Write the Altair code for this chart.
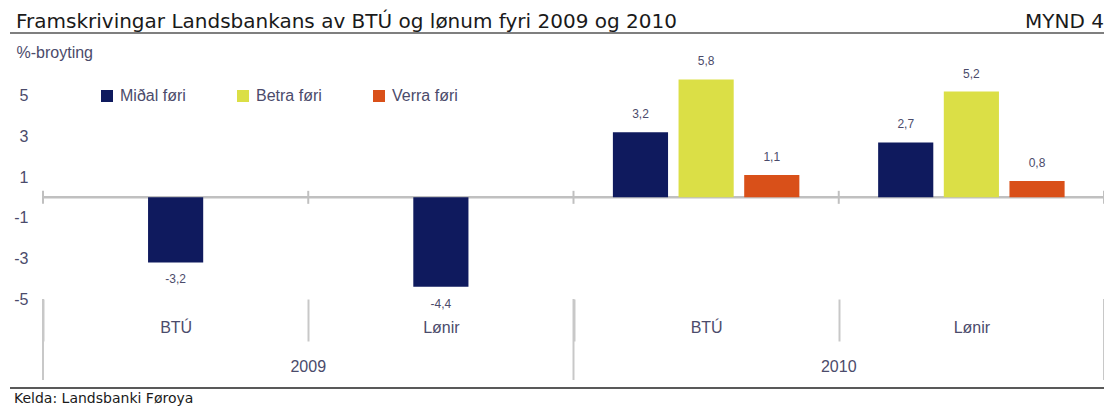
import altair as alt
import pandas as pd

# ---- data ----
years = ["2009", "2009", "2010", "2010"]
measures = ["BTÚ", "Lønir", "BTÚ", "Lønir"]
series = ["Miðal føri", "Betra føri", "Verra føri"]
midal = [-3.2, -4.4, 3.2, 2.7]
betra = [None, None, 5.8, 5.2]
verra = [None, None, 1.1, 0.8]
colors = ["#0f1a5e", "#dbdf46", "#d95019"]
y_ticks = [5, 3, 1, -1, -3, -5]
title_text = "Framskrivingar Landsbankans av BTÚ og lønum fyri 2009 og 2010"
fig_label = "MYND 4"
source_text = "Kelda: Landsbanki Føroya"
y_title = "%-broyting"

group_keys = [f"{y}|{m}" for y, m in zip(years, measures)]
rows = []
for i, g in enumerate(group_keys):
    vals = [midal[i], betra[i], verra[i]]
    present = [j for j, v in enumerate(vals) if v is not None]
    for j in present:
        slot = 1 if len(present) == 1 else j
        rows.append({"grp": g, "year": years[i], "series": series[j],
                     "value": vals[j], "slot": slot})
df = pd.DataFrame(rows)
groups_df = pd.DataFrame({"grp": group_keys, "year": years})
year_df = pd.DataFrame({"year": ["2009", "2010"], "anchor": ["2009|Lønir", "2010|Lønir"]})
one = pd.DataFrame({"k": [0]})

W, H = 1061, 244
TXT = "#4b4b6b"
FONT = "Liberation Sans"

xscale = alt.Scale(domain=group_keys, paddingInner=0, paddingOuter=0)
yscale = alt.Scale(domain=[-5, 7], nice=False, zero=False)

x_main = alt.X(
    "grp:N", sort=group_keys, scale=xscale,
    axis=alt.Axis(title=None, tickBand="extent", tickSize=42, tickColor="#c8c8c8",
                  tickWidth=2, domain=False, labelAngle=0,
                  labelExpr="split(datum.label, '|')[1]",
                  labelPadding=-14, labelBaseline="middle", labelFontSize=16,
                  labelColor=TXT, labelFont=FONT),
)
y_main = alt.Y(
    "value:Q", scale=yscale,
    axis=alt.Axis(values=y_ticks, ticks=False, domain=False, grid=False,
                  labelExpr="replace(datum.label, '\u2212', '-')",
                  labelPadding=15, labelFontSize=16, labelColor=TXT, labelFont=FONT,
                  title=y_title, titleAngle=0, titleX=-27, titleY=-3,
                  titleAlign="left", titleBaseline="middle", titleFontWeight="normal",
                  titleFontSize=16, titleColor=TXT, titleFont=FONT),
)
xoff = alt.XOffset("slot:O", scale=alt.Scale(domain=[0, 1, 2], paddingInner=0.16, paddingOuter=0.6))

bars = alt.Chart(df).mark_bar().encode(
    x=x_main, y=y_main, xOffset=xoff,
    color=alt.Color("series:N", sort=series,
                    scale=alt.Scale(domain=series, range=colors),
                    legend=alt.Legend(title=None, orient="none", legendX=56, legendY=33,
                                      direction="horizontal", symbolType="square",
                                      symbolSize=144, symbolStrokeWidth=0,
                                      labelFontSize=16, labelColor=TXT, labelFont=FONT,
                                      columnPadding=49, labelOffset=5)),
)

lbl_base = alt.Chart(df).transform_calculate(
    lbl="replace(replace(format(datum.value, '.1f'), '.', ','), '\u2212', '-')"
)
pos_lbl = lbl_base.transform_filter("datum.value >= 0").mark_text(
    dy=-18, fontSize=12, color=TXT, font=FONT, baseline="middle"
).encode(x=alt.X("grp:N", sort=group_keys), y="value:Q", xOffset=xoff, text="lbl:N")
neg_lbl = lbl_base.transform_filter("datum.value < 0").mark_text(
    dy=17, fontSize=12, color=TXT, font=FONT, baseline="middle"
).encode(x=alt.X("grp:N", sort=group_keys), y="value:Q", xOffset=xoff, text="lbl:N")

zero_line = alt.Chart(one).mark_rule(color="#c0c0c0", strokeWidth=2.5).encode(
    y=alt.datum(0), x=alt.value(0), x2=alt.value(W)
)
zero_ticks = alt.Chart(groups_df).mark_rule(
    color="#c0c0c0", strokeWidth=2, yOffset=-6.5, y2Offset=6.5
).encode(x=alt.X("grp:N", sort=group_keys, bandPosition=0), y=alt.datum(0), y2=alt.datum(0))
zero_tick_end = alt.Chart(groups_df).transform_filter(
    f"datum.grp == '{group_keys[-1]}'"
).mark_rule(color="#c0c0c0", strokeWidth=2, yOffset=-6.5, y2Offset=6.5).encode(
    x=alt.X("grp:N", sort=group_keys, bandPosition=1), y=alt.datum(0), y2=alt.datum(0)
)

long_sep = alt.Chart(groups_df).transform_filter(
    "indexof(datum.grp, 'BTÚ') >= 0"
).mark_rule(color="#c8c8c8", strokeWidth=2).encode(
    x=alt.X("grp:N", sort=group_keys, bandPosition=0), y=alt.value(H), y2=alt.value(325)
)
long_sep_end = alt.Chart(groups_df).transform_filter(
    f"datum.grp == '{group_keys[-1]}'"
).mark_rule(color="#c8c8c8", strokeWidth=2).encode(
    x=alt.X("grp:N", sort=group_keys, bandPosition=1), y=alt.value(H), y2=alt.value(325)
)
year_lbl = alt.Chart(year_df).mark_text(
    fontSize=16, color=TXT, font=FONT, baseline="middle"
).encode(
    x=alt.X("anchor:N", sort=group_keys, bandPosition=0), y=alt.value(312), text="year:N"
)

title = alt.Chart(one).mark_text(
    fontSize=20, color="#1a1a1a", font="DejaVu Sans", align="left", baseline="alphabetic"
).encode(x=alt.value(-27), y=alt.value(-27.5), text=alt.value(title_text))
mynd = alt.Chart(one).mark_text(
    fontSize=20, color="#1a1a1a", font="DejaVu Sans", align="right", baseline="alphabetic"
).encode(x=alt.value(W), y=alt.value(-27.5), text=alt.value(fig_label))
kelda = alt.Chart(one).mark_text(
    fontSize=14, color="#1a1a1a", font="DejaVu Sans", align="left", baseline="alphabetic"
).encode(x=alt.value(-29), y=alt.value(347.5), text=alt.value(source_text))

line_top = alt.Chart(one).mark_rule(color="#666666", strokeWidth=1.5).encode(
    x=alt.value(-33), x2=alt.value(W + 10), y=alt.value(-50.5))
line_mid = alt.Chart(one).mark_rule(color="#555555", strokeWidth=1.5).encode(
    x=alt.value(-33), x2=alt.value(W + 10), y=alt.value(-22))
line_bot = alt.Chart(one).mark_rule(color="#222222", strokeWidth=1.5).encode(
    x=alt.value(-33), x2=alt.value(W + 10), y=alt.value(333))

chart = alt.layer(
    zero_line, bars, zero_ticks, zero_tick_end, long_sep, long_sep_end,
    pos_lbl, neg_lbl, year_lbl, title, mynd, kelda, line_top, line_mid, line_bot
).properties(
    width=W, height=H,
    autosize=alt.AutoSizeParams(type="none"),
    padding={"left": 35, "top": 47, "right": 0, "bottom": 109},
).configure_view(stroke=None)

chart.save("out.html", embed_options={"renderer": "svg", "actions": False})
